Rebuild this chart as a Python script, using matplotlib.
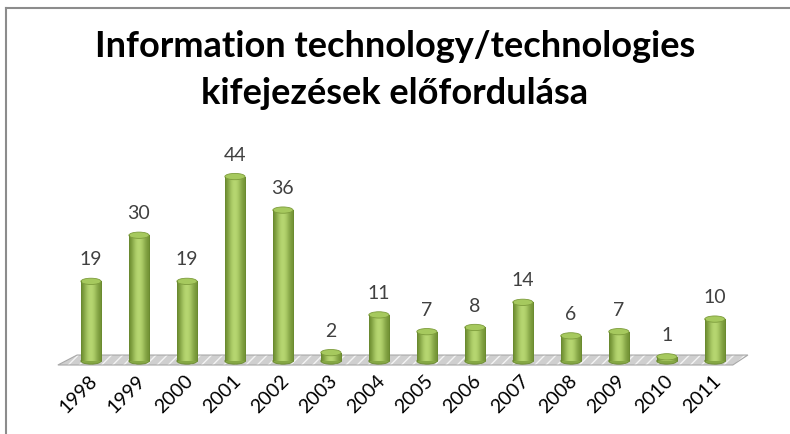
import numpy as np
import matplotlib.pyplot as plt
from matplotlib.patches import Polygon, Ellipse, Rectangle
from matplotlib.colors import LinearSegmentedColormap

years = ['1998', '1999', '2000', '2001', '2002', '2003', '2004',
         '2005', '2006', '2007', '2008', '2009', '2010', '2011']
counts = [19, 30, 19, 44, 36, 2, 11, 7, 8, 14, 6, 7, 1, 10]

title = 'Information technology/technologies\nkifejezések előfordulása'
fam = ['Lato', 'DejaVu Sans']

fig = plt.figure(figsize=(7.9, 4.35), dpi=100)
fig.patch.set_facecolor('white')

# chart border (top and left visible only)
fig.add_artist(plt.Line2D([6 / 790, 6 / 790], [0, 1 - 9 / 435], color='#8c8c8c', lw=1.5))
fig.add_artist(plt.Line2D([6 / 790, 1], [1 - 9 / 435, 1 - 9 / 435], color='#8c8c8c', lw=1.5))

fig.text(0.5, 1 - 70 / 435, title, ha='center', va='center', fontsize=26,
         fontweight='bold', family=fam, linespacing=1.5, color='black')

ax = fig.add_axes([55 / 790, 64.6 / 435, 703 / 790, 218 / 435])
ax.set_xlim(-0.75, 13.9)
ax.set_ylim(-2, 50)
ax.axis('off')

x = np.arange(len(years))

# floor
corners = [(-0.69, -0.95), (13.375, -0.95), (13.69, 1.43), (-0.29, 1.43)]
ax.add_patch(Polygon(corners, closed=True, facecolor='#cfcfcf', edgecolor='#f4f4f4',
                     hatch='///', lw=0, zorder=1))
ax.add_patch(Polygon(corners, closed=True, facecolor='none', edgecolor='#a8a8a8',
                     lw=0.8, zorder=1))

bw = 0.42
cap_h = 1.5
grad = np.array([[0.0, 0.35, 0.7, 0.95, 1.0, 0.85, 0.55, 0.25, 0.05]])
cmap = LinearSegmentedColormap.from_list('cyl', ['#6f8f32', '#b8d872'])

for xi, v in zip(x, counts):
    rect = Rectangle((xi - bw / 2, 0), bw, v, facecolor='none', edgecolor='none')
    ax.add_patch(rect)
    im = ax.imshow(grad, cmap=cmap, aspect='auto', extent=(xi - bw / 2, xi + bw / 2, 0, v),
                   zorder=2, interpolation='bicubic')
    im.set_clip_path(rect)
    ax.add_patch(Ellipse((xi, 0), bw, cap_h, facecolor='#86a845', edgecolor='#6a8a30',
                         lw=0.6, zorder=1.9))
    ax.add_patch(Ellipse((xi, v), bw, cap_h, facecolor='#a6c95e', edgecolor='#7d9c3c',
                         lw=0.6, zorder=3))
    ax.plot([xi - bw / 2, xi - bw / 2], [0, v], color='#6a8a30', lw=0.6, zorder=3)
    ax.plot([xi + bw / 2, xi + bw / 2], [0, v], color='#6a8a30', lw=0.6, zorder=3)
    ax.annotate(str(v), (xi, v), xytext=(0, 10), textcoords='offset points',
                ha='center', va='bottom', fontsize=14, color='#404040', family=fam)

for xi, lab in zip(x, years):
    ax.text(xi - 0.05, -2.4, lab, rotation=45, ha='right', va='top',
            rotation_mode='anchor', fontsize=14, color='black', family=fam)

plt.savefig('out.png', dpi=100)
